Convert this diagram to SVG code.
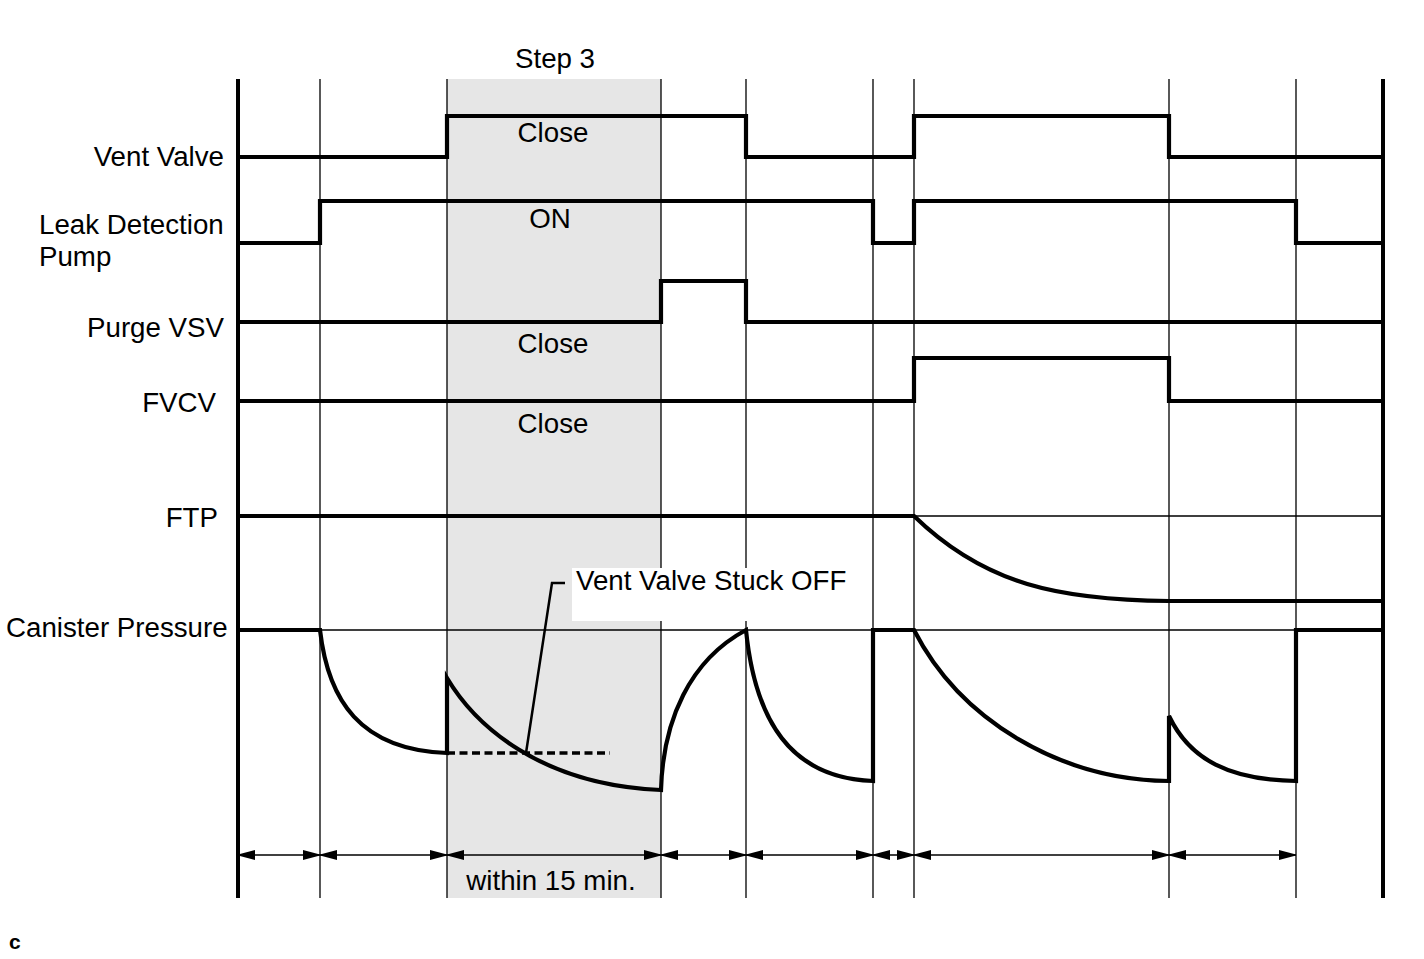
<svg xmlns="http://www.w3.org/2000/svg" width="1424" height="959" viewBox="0 0 1424 959">
<style>
text{font-family:"Liberation Sans",Arial,sans-serif;font-size:27.7px;fill:#000}
.thin{stroke:#000;stroke-width:1.3;fill:none}
.sig{stroke:#000;stroke-width:4.2;fill:none;stroke-linejoin:miter}
.axis{stroke:#000;stroke-width:4;fill:none}
.dim{stroke:#000;stroke-width:1.4;fill:none;marker-start:url(#ah);marker-end:url(#ah)}
.mid{text-anchor:middle}
.end{text-anchor:end}
</style>
<defs>
<marker id="ah" viewBox="0 0 17 11" refX="17" refY="5.5" markerWidth="17" markerHeight="11" markerUnits="userSpaceOnUse" orient="auto-start-reverse">
<path d="M0,0.5 L17,5 L17,6 L0,10.5 Z" fill="#000"/>
</marker>
</defs>
<rect x="447" y="79" width="214" height="819" fill="#e6e6e6"/>
<g id="grid">
<path class="thin" d="M320,79V898 M447,79V898 M661,79V898 M746,79V898 M873,79V898 M914,79V898 M1169,79V898 M1296,79V898"/>
<path class="thin" d="M238,516H1383 M238,630H1383"/>
</g>
<g id="axes">
<path class="axis" d="M238,79V898 M1383,79V898"/>
</g>
<g id="labels">
<text class="mid" x="555" y="68">Step 3</text>
<text class="end" x="224" y="166">Vent Valve</text>
<text x="39" y="234">Leak Detection</text>
<text x="39" y="266">Pump</text>
<text class="end" x="224" y="337">Purge VSV</text>
<text class="end" x="216" y="412">FVCV</text>
<text class="end" x="218" y="527">FTP</text>
<text x="6" y="637">Canister Pressure</text>
<text class="mid" x="553" y="142">Close</text>
<text class="mid" x="550" y="228">ON</text>
<text class="mid" x="553" y="353">Close</text>
<text class="mid" x="553" y="433">Close</text>
<text class="mid" x="551" y="890">within 15 min.</text>
<text x="9" y="949" style="font-size:21px;font-weight:bold">c</text>
</g>
<g id="vent-valve">
<path class="sig" d="M238,157H447V116H746V157H914V116H1169V157H1383"/>
</g>
<g id="leak-detection-pump">
<path class="sig" d="M238,243H320V201H873V243H914V201H1296V243H1383"/>
</g>
<g id="purge-vsv">
<path class="sig" d="M238,322H661V281H746V322H1383"/>
</g>
<g id="fvcv">
<path class="sig" d="M238,401H914V358H1169V401H1383"/>
</g>
<g id="ftp">
<path class="sig" d="M238,516H914 C985,585 1060,600 1169,601 H1383"/>
</g>
<g id="canister-pressure">
<path class="sig" d="M238,630H320 C328,700 360,750 447,753 V678 C475,725 540,785 661,790 C663,720 690,660 746,630 C755,720 790,778 873,781 V630 H914 C960,720 1060,780 1169,781 V716 C1190,760 1230,780 1296,781 V630 H1383"/>
<path d="M447,753H610" stroke="#000" stroke-width="3.5" stroke-dasharray="8,4.5" fill="none"/>
</g>
<g id="stuck-label">
<rect x="572" y="568" width="283" height="53" fill="#fff"/>
<path d="M526,753 L552,583 H565" stroke="#000" stroke-width="2.5" fill="none"/>
<text x="576" y="590">Vent Valve Stuck OFF</text>
</g>
<g id="connectors">
<path class="dim" d="M238,855H320"/>
<path class="dim" d="M320,855H447"/>
<path class="dim" d="M447,855H661"/>
<path class="dim" d="M661,855H746"/>
<path class="dim" d="M746,855H873"/>
<path class="dim" d="M873,855H914"/>
<path class="dim" d="M914,855H1169"/>
<path class="dim" d="M1169,855H1296"/>
</g>
</svg>
